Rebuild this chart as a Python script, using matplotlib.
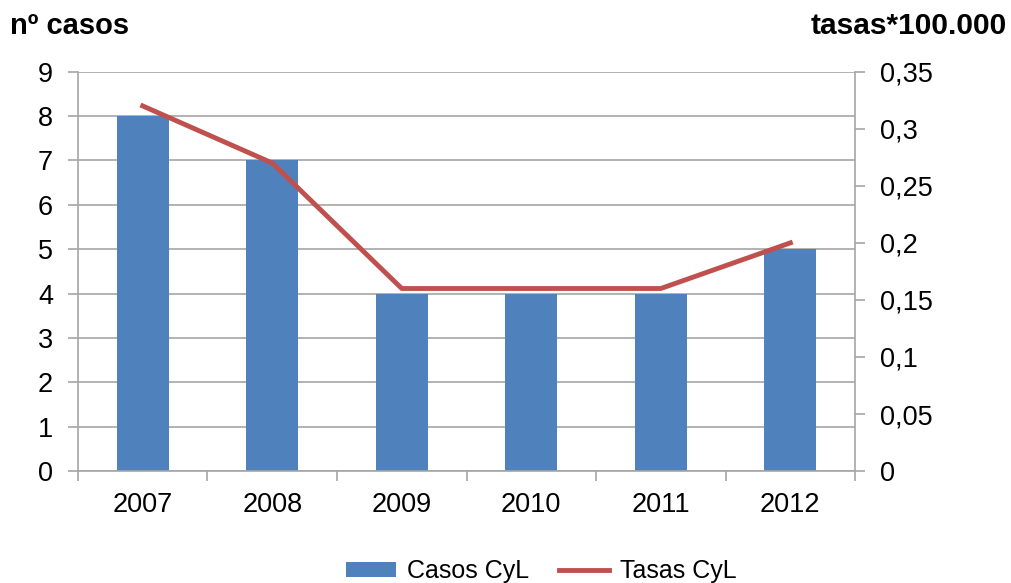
import matplotlib.pyplot as plt
import numpy as np

plt.rcParams['font.family'] = ['Liberation Sans', 'DejaVu Sans']

years = ['2007', '2008', '2009', '2010', '2011', '2012']
casos = [8, 7, 4, 4, 4, 5]
tasas = [0.32, 0.27, 0.16, 0.16, 0.16, 0.20]
left_ticks = [0, 1, 2, 3, 4, 5, 6, 7, 8, 9]
right_ticks = [0, 0.05, 0.1, 0.15, 0.2, 0.25, 0.3, 0.35]
right_labels = ['0', '0,05', '0,1', '0,15', '0,2', '0,25', '0,3', '0,35']

blue = '#4f81bd'
red = '#c0504d'
grey = '#a6a6a6'

fig = plt.figure(figsize=(10.12, 5.83), dpi=100)
ax = fig.add_axes([0.077, 0.192, 0.768, 0.685])
x = np.arange(len(years))

ax.bar(x, casos, width=0.4, color=blue, zorder=2, label='Casos CyL')
ax.set_xlim(-0.5, len(years) - 0.5)
ax.set_ylim(0, 9)
ax.set_yticks(left_ticks)
ax.yaxis.grid(True, color=grey, lw=1.2, zorder=0)
ax.set_xticks(x)
ax.set_xticklabels(years)
ax.set_xticks(np.arange(-0.5, len(years)), minor=True)
ax.tick_params(axis='x', which='major', length=0, pad=15, labelsize=19.5)
ax.tick_params(axis='x', which='minor', length=7, color=grey, width=1.2)
ax.tick_params(axis='y', length=7, color=grey, width=1.2, labelsize=19.5, pad=11)
for s in ['top', 'right']:
    ax.spines[s].set_visible(False)
for s in ['left', 'bottom']:
    ax.spines[s].set_color(grey)
    ax.spines[s].set_linewidth(1.2)

ax2 = ax.twinx()
ax2.plot(x, tasas, color=red, lw=3.5, label='Tasas CyL', zorder=3)
ax2.set_ylim(0, 0.35)
ax2.set_yticks(right_ticks)
ax2.set_yticklabels(right_labels)
ax2.tick_params(axis='y', length=7, color=grey, width=1.2, labelsize=19.5, pad=11)
for s in ['top', 'left', 'bottom']:
    ax2.spines[s].set_visible(False)
ax2.spines['right'].set_color(grey)
ax2.spines['right'].set_linewidth(1.2)

fig.text(0.01, 0.955, 'nº casos', fontsize=21, fontweight='bold', va='center')
fig.text(0.995, 0.955, 'tasas*100.000', fontsize=21.5, fontweight='bold', va='center', ha='right')

h1, l1 = ax.get_legend_handles_labels()
h2, l2 = ax2.get_legend_handles_labels()
fig.legend(h1 + h2, l1 + l2, loc='center', bbox_to_anchor=(0.535, 0.02), ncol=2,
           frameon=False, fontsize=18, handlelength=2.0, handleheight=0.6,
           columnspacing=1.2, handletextpad=0.45)

fig.savefig('out.png', dpi=100)
